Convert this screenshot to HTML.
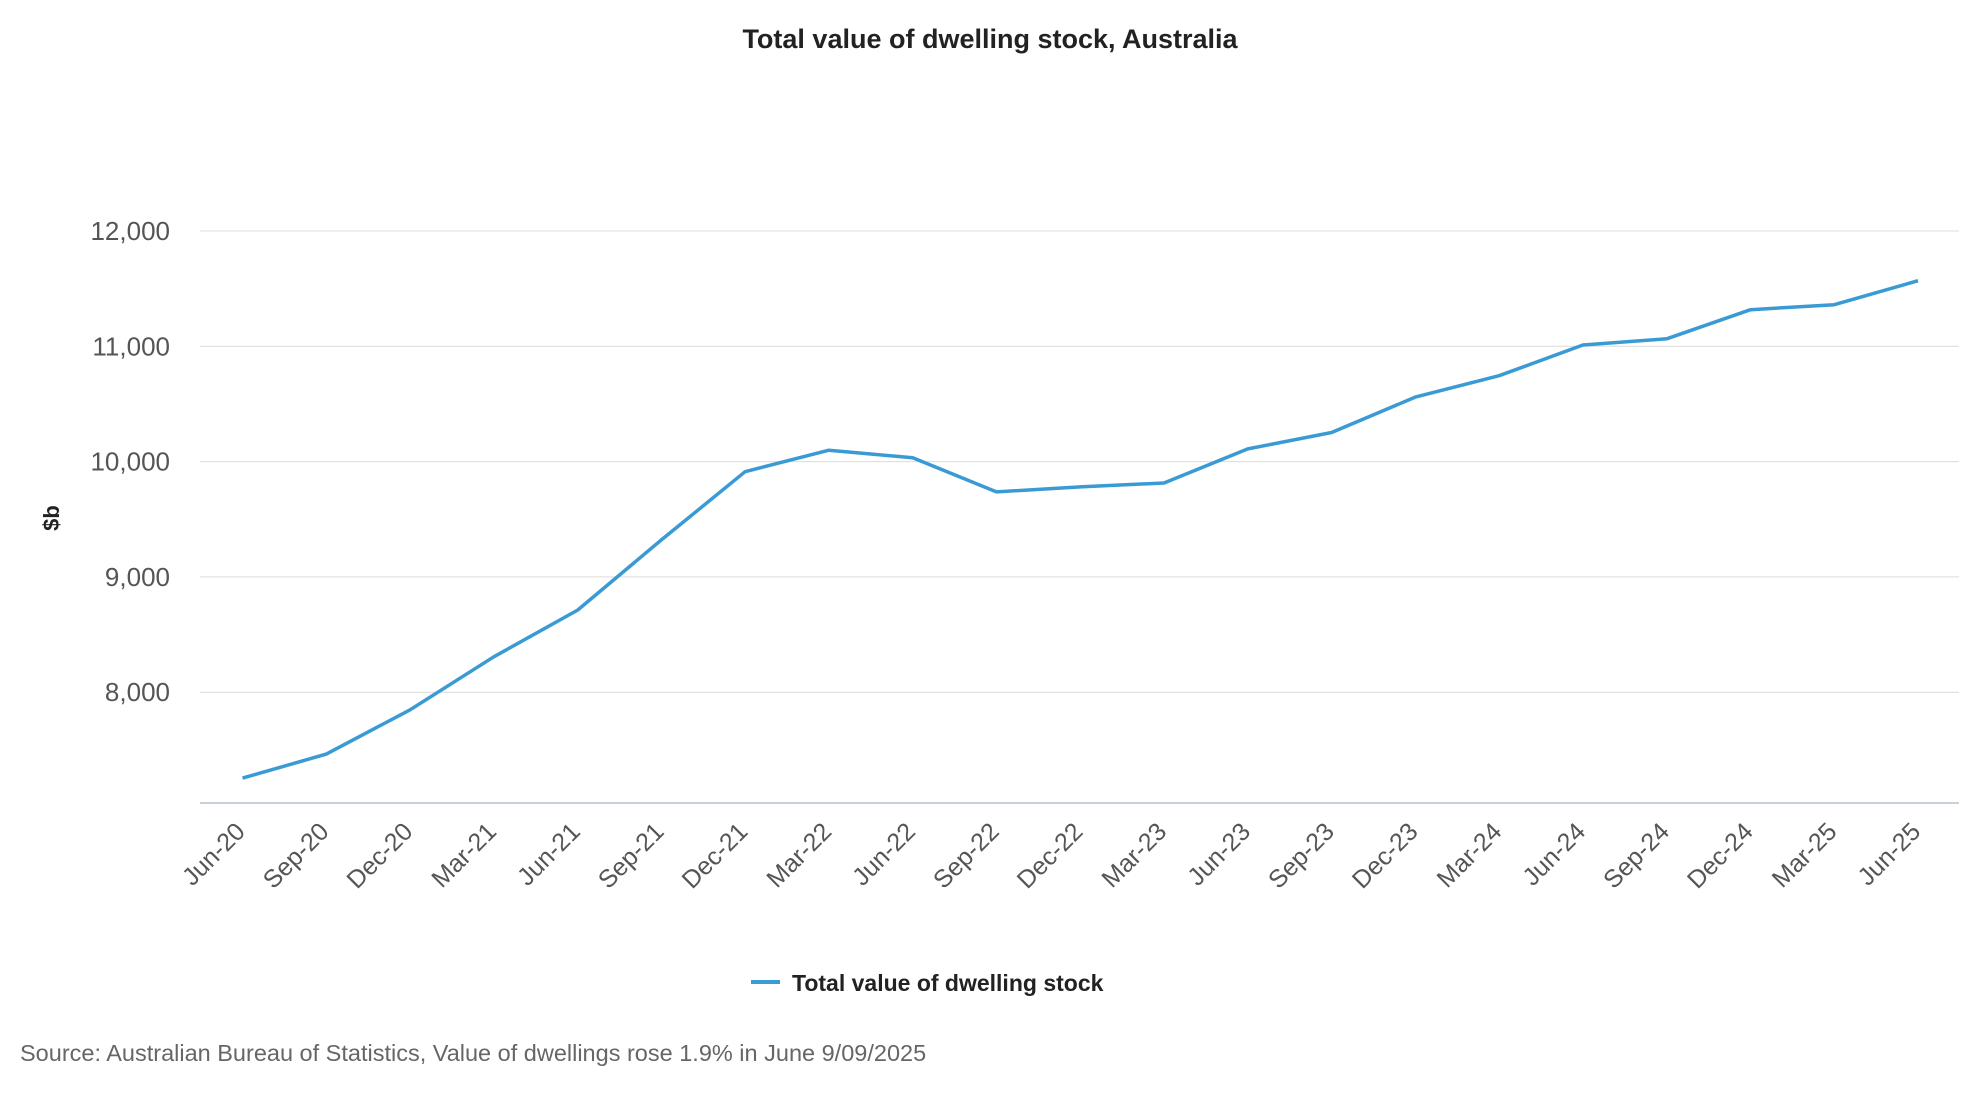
<!DOCTYPE html>
<html><head><meta charset="utf-8"><style>
html,body{margin:0;padding:0;background:#fff;}
svg{display:block;font-family:"Liberation Sans",sans-serif;}
</style></head><body>
<svg id="chart" width="1980" height="1100" viewBox="0 0 1980 1100">
<text x="990" y="48" text-anchor="middle" font-size="27" font-weight="bold" fill="#222">Total value of dwelling stock, Australia</text>
<g id="grid"></g>
<g id="yticks"></g>
<g id="xticks"></g>
<text transform="translate(59,518) rotate(-90)" text-anchor="middle" font-size="22" font-weight="bold" fill="#222">$b</text>
<path id="series" fill="none" stroke="#3a9bd4" stroke-width="3.5" stroke-linejoin="round"/>
<g>
<line x1="751" y1="982" x2="780" y2="982" stroke="#3a9bd4" stroke-width="4"/>
<text x="792" y="991" font-size="23" font-weight="bold" fill="#222">Total value of dwelling stock</text>
</g>
<text x="20" y="1061" font-size="23.5" fill="#666">Source: Australian Bureau of Statistics, Value of dwellings rose 1.9% in June 9/09/2025</text>
</svg>
<script>
const categories = ["Jun-20","Sep-20","Dec-20","Mar-21","Jun-21","Sep-21","Dec-21","Mar-22","Jun-22","Sep-22","Dec-22","Mar-23","Jun-23","Sep-23","Dec-23","Mar-24","Jun-24","Sep-24","Dec-24","Mar-25","Jun-25"];
const values = [7255,7463,7847,8307,8712,9321,9912,10099,10033,9737,9781,9814,10110,10252,10559,10745,11011,11065,11317,11361,11569];
const yTicks = [8000,9000,10000,11000,12000];
const yTickLabels = ["8,000","9,000","10,000","11,000","12,000"];

const NS="http://www.w3.org/2000/svg";
const plotL=200, plotR=1959, axisY=803;
const x0=242.5, x1=1918;
function xs(i){return x0+(x1-x0)*i/(categories.length-1);}
function ys(v){return 231+(12000-v)*0.11530;}
function mk(tag,attrs,parent){const e=document.createElementNS(NS,tag);for(const k in attrs)e.setAttribute(k,attrs[k]);parent.appendChild(e);return e;}
const grid=document.getElementById('grid'), yt=document.getElementById('yticks'), xt=document.getElementById('xticks');
yTicks.forEach((v,i)=>{
  const l=mk('line',{x1:plotL,x2:plotR,y1:ys(v),y2:ys(v),stroke:'#dcdcdc','stroke-width':1},grid);
  
  
  const t=mk('text',{x:170,y:ys(v)+9,'text-anchor':'end','font-size':26,fill:'#555'},yt);
  t.textContent=yTickLabels[i];
  
  
});
const ax=mk('line',{x1:plotL,x2:plotR,y1:axisY,y2:axisY,stroke:'#b8c0cc','stroke-width':1.5},grid);


categories.forEach((c,i)=>{
  const x=xs(i)+4, y=axisY+30;
  const t=mk('text',{x:x,y:y,'text-anchor':'end','font-size':25,fill:'#555',transform:`rotate(-45 ${x} ${y})`},xt);
  t.textContent=c;
  
  
});
document.getElementById('series').setAttribute('d',values.map((v,i)=>(i?'L':'M')+xs(i).toFixed(1)+' '+ys(v).toFixed(1)).join(' '));
</script>
</body></html>
